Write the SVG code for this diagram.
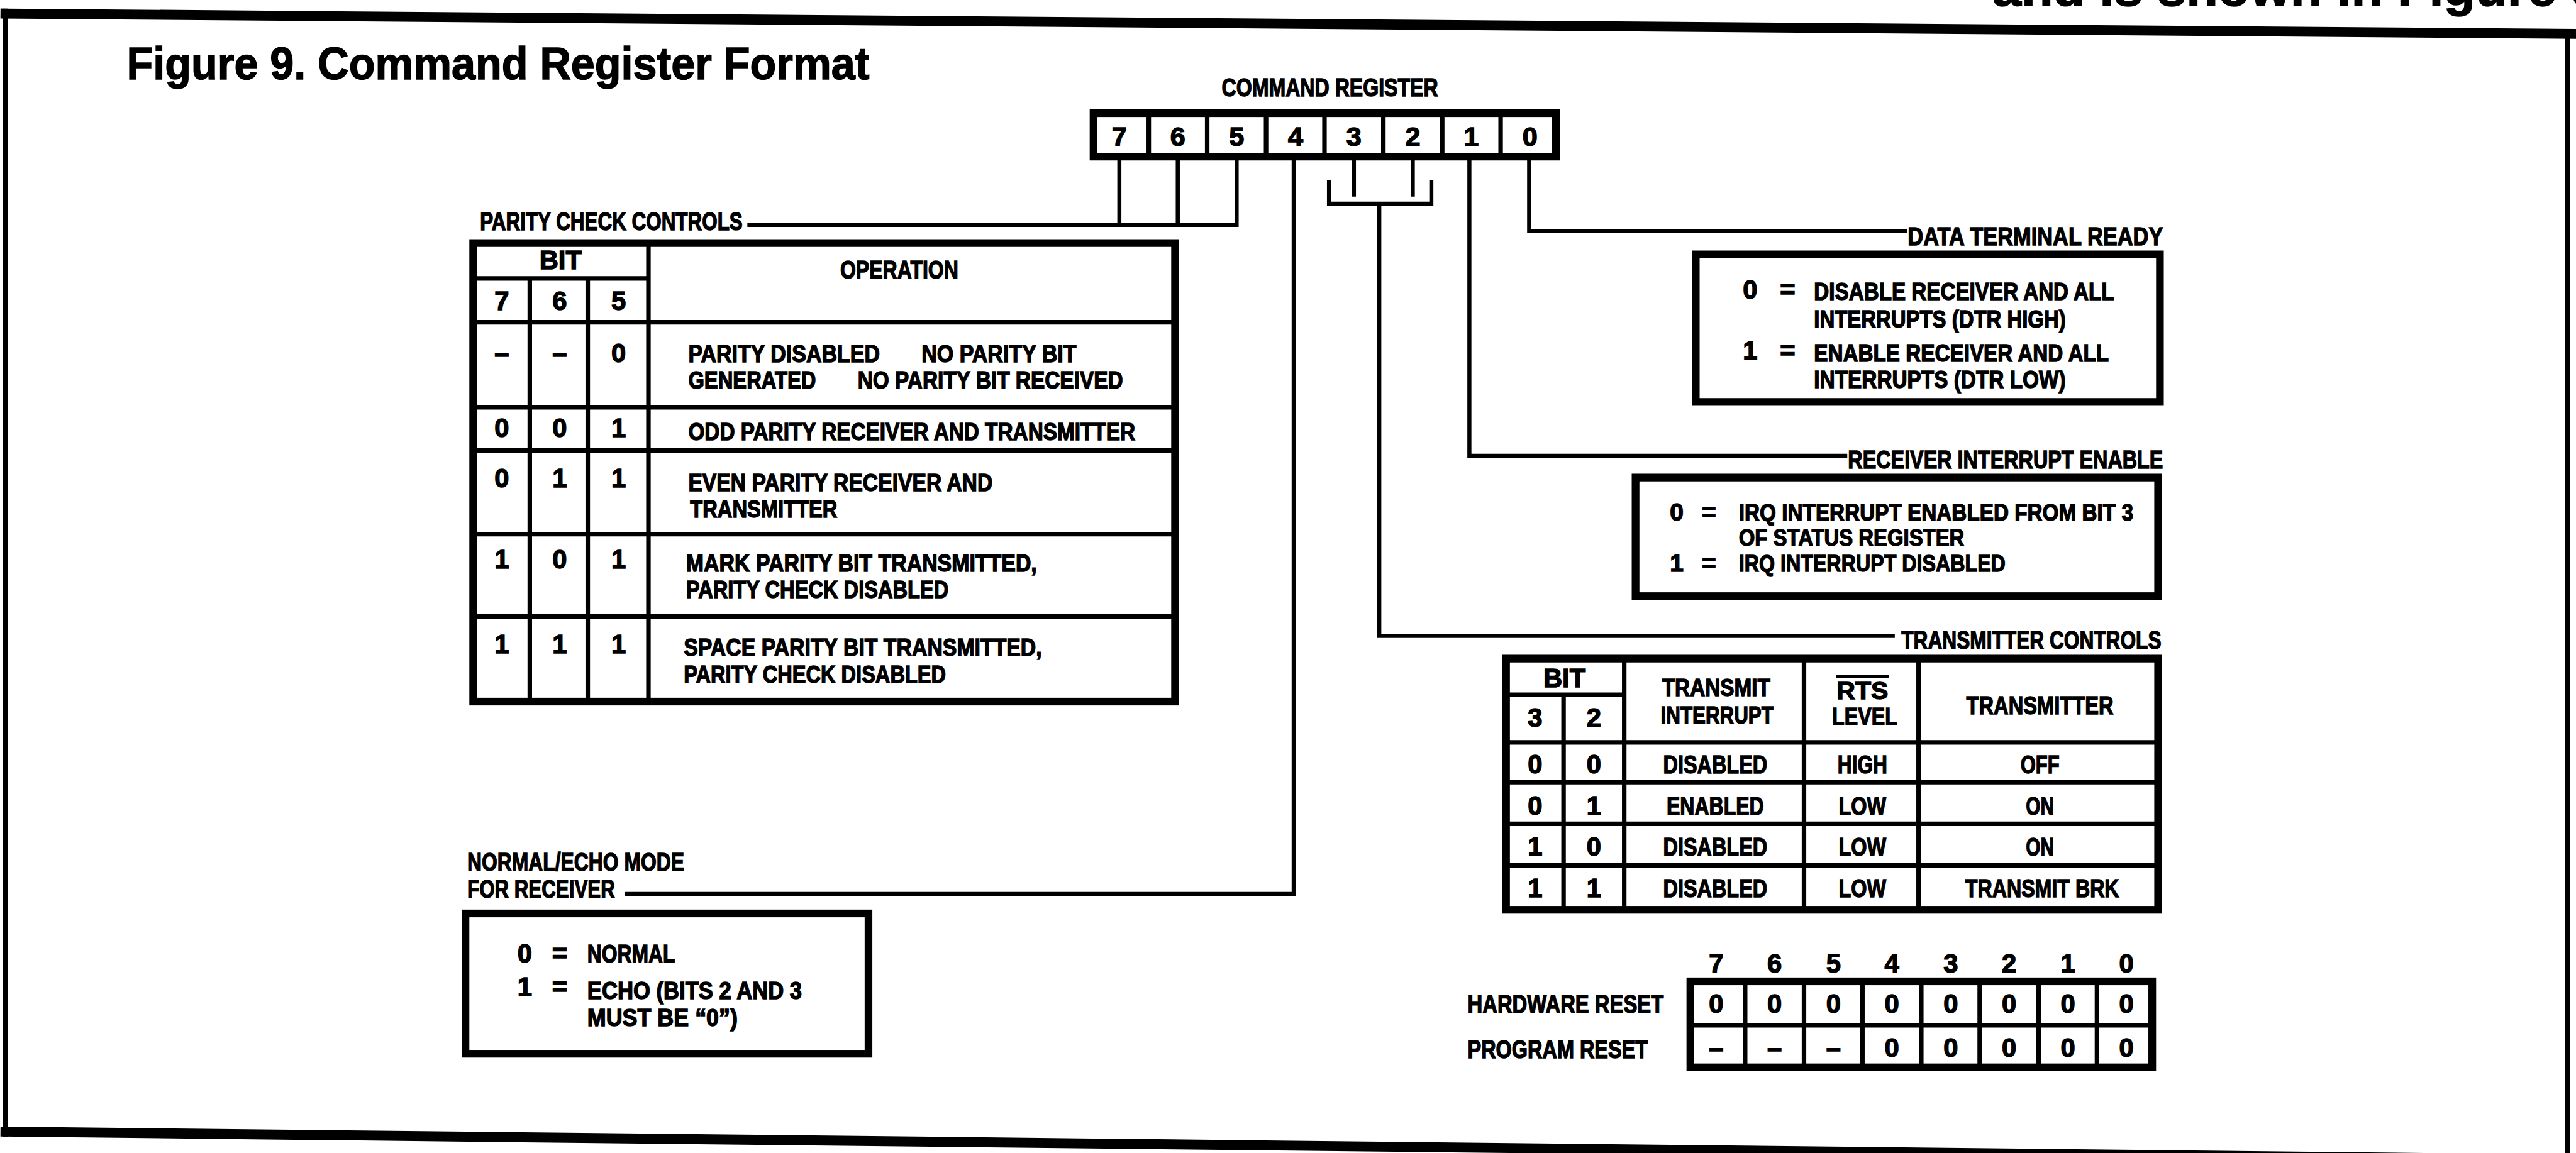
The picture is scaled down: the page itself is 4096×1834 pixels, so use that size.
<svg xmlns="http://www.w3.org/2000/svg" width="4096" height="1834" viewBox="0 0 4096 1834">
<style>
.ln{stroke:#000;fill:none;stroke-linecap:square}
.fr{stroke-width:22}
.b{stroke-width:17}
.g{stroke-width:10}
.c{stroke-width:9}
text{font-family:"Liberation Sans",Arial,Helvetica,sans-serif;font-weight:bold;fill:#000;stroke:#000;stroke-width:2}
.s{font-size:56px}
.t{font-size:53px}
.d{font-size:58px;text-anchor:middle}
.m{text-anchor:middle}
.ttl{font-size:100px}
</style>
<rect width="4096" height="1834" fill="#fff"/>
<g transform="scale(0.72)">
<g id="frame">
<line class="ln fr" x1="12" y1="30" x2="5700" y2="75"/>
<line class="ln" stroke-width="12" x1="12" y1="25" x2="12" y2="2505"/>
<line class="ln" stroke-width="12" x1="5670" y1="70" x2="5670" y2="2560"/>
<line class="ln fr" x1="12" y1="2500" x2="5700" y2="2562"/>
<text x="4400" y="13" style="font-size:115px">and is shown in Figure 9</text>
</g>
<g id="title"><text class="ttl" x="280" y="175" textLength="1640" lengthAdjust="spacingAndGlyphs">Figure 9. Command Register Format</text></g>

<g id="connectors">
<path class="ln c" d="M2472,353V497M2601,353V497M2731,353V497H1655"/>
<path class="ln c" d="M2857,353V1975H1385"/>
<path class="ln c" d="M2990,353V430M3120,353V430M2935,403V450H3161V403M3046,450V1405H4180"/>
<path class="ln c" d="M3245,353V1007H4075"/>
<path class="ln c" d="M3377,353V510H4207"/>
</g>

<g id="command-register">
<text class="s" x="2698" y="212" textLength="478" lengthAdjust="spacingAndGlyphs">COMMAND REGISTER</text>
<rect class="ln b" x="2415" y="250" width="1021" height="96"/>
<path class="ln g" d="M2537,250V346M2666,250V346M2796,250V346M2925,250V346M3055,250V346M3185,250V346M3314,250V346"/>
<g class="d" style="font-size:60px"><text x="2472" y="322">7</text><text x="2601" y="322">6</text><text x="2731" y="322">5</text><text x="2861" y="322">4</text><text x="2990" y="322">3</text><text x="3120" y="322">2</text><text x="3249" y="322">1</text><text x="3379" y="322">0</text></g>
</g>

<g id="parity-check-controls">
<text class="s" x="1060" y="508" textLength="580" lengthAdjust="spacingAndGlyphs">PARITY CHECK CONTROLS</text>
<rect class="ln b" x="1045" y="537" width="1550" height="1013"/>
<path class="ln g" d="M1170,615V1550M1298,615V1550M1432,537V1550M1045,615H1432M1045,712H2595M1045,900H2595M1045,995H2595M1045,1180H2595M1045,1362H2595"/>
<text class="d" x="1238" y="595">BIT</text>
<text class="s m" x="1986" y="615" textLength="261" lengthAdjust="spacingAndGlyphs">OPERATION</text>
<g class="d"><text x="1108" y="685">7</text><text x="1236" y="685">6</text><text x="1366" y="685">5</text>
<text x="1108" y="800">–</text><text x="1236" y="800">–</text><text x="1366" y="800">0</text>
<text x="1108" y="965">0</text><text x="1236" y="965">0</text><text x="1366" y="965">1</text>
<text x="1108" y="1077">0</text><text x="1236" y="1077">1</text><text x="1366" y="1077">1</text>
<text x="1108" y="1255">1</text><text x="1236" y="1255">0</text><text x="1366" y="1255">1</text>
<text x="1108" y="1443">1</text><text x="1236" y="1443">1</text><text x="1366" y="1443">1</text></g>
<text class="t" x="1520" y="800" textLength="423" lengthAdjust="spacingAndGlyphs">PARITY DISABLED</text>
<text class="t" x="2035" y="800" textLength="342" lengthAdjust="spacingAndGlyphs">NO PARITY BIT</text>
<text class="t" x="1520" y="858" textLength="282" lengthAdjust="spacingAndGlyphs">GENERATED</text>
<text class="t" x="1894" y="858" textLength="586" lengthAdjust="spacingAndGlyphs">NO PARITY BIT RECEIVED</text>
<text class="t" x="1520" y="972" textLength="987" lengthAdjust="spacingAndGlyphs">ODD PARITY RECEIVER AND TRANSMITTER</text>
<text class="t" x="1520" y="1085" textLength="672" lengthAdjust="spacingAndGlyphs">EVEN PARITY RECEIVER AND</text>
<text class="t" x="1524" y="1143" textLength="325" lengthAdjust="spacingAndGlyphs">TRANSMITTER</text>
<text class="t" x="1515" y="1263" textLength="775" lengthAdjust="spacingAndGlyphs">MARK PARITY BIT TRANSMITTED,</text>
<text class="t" x="1515" y="1321" textLength="580" lengthAdjust="spacingAndGlyphs">PARITY CHECK DISABLED</text>
<text class="t" x="1510" y="1448" textLength="791" lengthAdjust="spacingAndGlyphs">SPACE PARITY BIT TRANSMITTED,</text>
<text class="t" x="1510" y="1508" textLength="579" lengthAdjust="spacingAndGlyphs">PARITY CHECK DISABLED</text>
</g>

<g id="data-terminal-ready">
<text class="s" x="4213" y="542" textLength="564" lengthAdjust="spacingAndGlyphs">DATA TERMINAL READY</text>
<rect class="ln b" x="3745" y="562" width="1025" height="326"/>
<text class="d" x="3865" y="660">0</text><text class="d" x="3948" y="660">=</text>
<text class="t" x="4006" y="662" textLength="663" lengthAdjust="spacingAndGlyphs">DISABLE RECEIVER AND ALL</text>
<text class="t" x="4006" y="724" textLength="556" lengthAdjust="spacingAndGlyphs">INTERRUPTS (DTR HIGH)</text>
<text class="d" x="3865" y="795">1</text><text class="d" x="3948" y="795">=</text>
<text class="t" x="4006" y="798" textLength="651" lengthAdjust="spacingAndGlyphs">ENABLE RECEIVER AND ALL</text>
<text class="t" x="4006" y="857" textLength="556" lengthAdjust="spacingAndGlyphs">INTERRUPTS (DTR LOW)</text>
</g>

<g id="receiver-interrupt-enable">
<text class="s" x="4081" y="1035" textLength="696" lengthAdjust="spacingAndGlyphs">RECEIVER INTERRUPT ENABLE</text>
<rect class="ln b" x="3612" y="1055" width="1154" height="262"/>
<text class="d" style="font-size:54px" x="3703" y="1150">0</text><text class="d" style="font-size:54px" x="3774" y="1150">=</text>
<text style="font-size:52px" x="3840" y="1150" textLength="871" lengthAdjust="spacingAndGlyphs">IRQ INTERRUPT ENABLED FROM BIT 3</text>
<text style="font-size:52px" x="3840" y="1205" textLength="498" lengthAdjust="spacingAndGlyphs">OF STATUS REGISTER</text>
<text class="d" style="font-size:54px" x="3703" y="1262">1</text><text class="d" style="font-size:54px" x="3774" y="1262">=</text>
<text style="font-size:52px" x="3840" y="1262" textLength="589" lengthAdjust="spacingAndGlyphs">IRQ INTERRUPT DISABLED</text>
</g>

<g id="transmitter-controls">
<text class="s" x="4199" y="1433" textLength="574" lengthAdjust="spacingAndGlyphs">TRANSMITTER CONTROLS</text>
<rect class="ln b" x="3326" y="1455" width="1440" height="555"/>
<path class="ln g" d="M3453,1535V2010M3587,1455V2010M3984,1455V2010M4237,1455V2010M3326,1535H3587M3326,1640H4766M3326,1728H4766M3326,1820H4766M3326,1912H4766"/>
<text class="d" x="3455" y="1518">BIT</text>
<text class="d" x="3390" y="1605">3</text><text class="d" x="3520" y="1605">2</text>
<text class="t m" x="3790" y="1538" textLength="239" lengthAdjust="spacingAndGlyphs">TRANSMIT</text>
<text class="t m" x="3792" y="1598" textLength="249" lengthAdjust="spacingAndGlyphs">INTERRUPT</text>
<text class="t m" x="4113" y="1545" textLength="114" lengthAdjust="spacingAndGlyphs" text-decoration="overline">RTS</text>
<text class="t m" x="4118" y="1602" textLength="144" lengthAdjust="spacingAndGlyphs">LEVEL</text>
<text class="s m" x="4505" y="1578" textLength="325" lengthAdjust="spacingAndGlyphs">TRANSMITTER</text>
<g class="d"><text x="3390" y="1708">0</text><text x="3520" y="1708">0</text>
<text x="3390" y="1800">0</text><text x="3520" y="1800">1</text>
<text x="3390" y="1890">1</text><text x="3520" y="1890">0</text>
<text x="3390" y="1982">1</text><text x="3520" y="1982">1</text></g>
<text class="s m" x="3788" y="1708" textLength="230" lengthAdjust="spacingAndGlyphs">DISABLED</text>
<text class="s m" x="4113" y="1708" textLength="110" lengthAdjust="spacingAndGlyphs">HIGH</text>
<text class="s m" x="4505" y="1708" textLength="86" lengthAdjust="spacingAndGlyphs">OFF</text>
<text class="s m" x="3788" y="1800" textLength="215" lengthAdjust="spacingAndGlyphs">ENABLED</text>
<text class="s m" x="4113" y="1800" textLength="105" lengthAdjust="spacingAndGlyphs">LOW</text>
<text class="s m" x="4505" y="1800" textLength="62" lengthAdjust="spacingAndGlyphs">ON</text>
<text class="s m" x="3788" y="1890" textLength="230" lengthAdjust="spacingAndGlyphs">DISABLED</text>
<text class="s m" x="4113" y="1890" textLength="105" lengthAdjust="spacingAndGlyphs">LOW</text>
<text class="s m" x="4505" y="1890" textLength="62" lengthAdjust="spacingAndGlyphs">ON</text>
<text class="s m" x="3788" y="1982" textLength="230" lengthAdjust="spacingAndGlyphs">DISABLED</text>
<text class="s m" x="4113" y="1982" textLength="105" lengthAdjust="spacingAndGlyphs">LOW</text>
<text class="s m" x="4510" y="1982" textLength="340" lengthAdjust="spacingAndGlyphs">TRANSMIT BRK</text>
</g>

<g id="normal-echo-mode">
<text class="s" x="1032" y="1923" textLength="479" lengthAdjust="spacingAndGlyphs">NORMAL/ECHO MODE</text>
<text class="s" x="1032" y="1983" textLength="326" lengthAdjust="spacingAndGlyphs">FOR RECEIVER</text>
<rect class="ln b" x="1028" y="2018" width="890" height="310"/>
<text class="d" x="1159" y="2127">0</text><text class="d" x="1236" y="2127">=</text>
<text class="s" x="1297" y="2127" textLength="194" lengthAdjust="spacingAndGlyphs">NORMAL</text>
<text class="d" x="1159" y="2200">1</text><text class="d" x="1236" y="2200">=</text>
<text class="t" x="1297" y="2207" textLength="474" lengthAdjust="spacingAndGlyphs">ECHO (BITS 2 AND 3</text>
<text class="t" x="1297" y="2267" textLength="332" lengthAdjust="spacingAndGlyphs">MUST BE “0”)</text>
</g>

<g id="reset-values">
<g class="d"><text x="3790" y="2148">7</text><text x="3919" y="2148">6</text><text x="4049" y="2148">5</text><text x="4178" y="2148">4</text><text x="4308" y="2148">3</text><text x="4437" y="2148">2</text><text x="4567" y="2148">1</text><text x="4696" y="2148">0</text></g>
<text class="s" x="3241" y="2237" textLength="433" lengthAdjust="spacingAndGlyphs">HARDWARE RESET</text>
<text class="s" x="3241" y="2337" textLength="398" lengthAdjust="spacingAndGlyphs">PROGRAM RESET</text>
<rect class="ln b" x="3733" y="2168" width="1020" height="190"/>
<path class="ln g" stroke-width="13" d="M3733,2265H4753M3854,2168V2358M3984,2168V2358M4113,2168V2358M4243,2168V2358M4372,2168V2358M4502,2168V2358M4631,2168V2358"/>
<g class="d"><text x="3790" y="2238">0</text><text x="3919" y="2238">0</text><text x="4049" y="2238">0</text><text x="4178" y="2238">0</text><text x="4308" y="2238">0</text><text x="4437" y="2238">0</text><text x="4567" y="2238">0</text><text x="4696" y="2238">0</text>
<text x="3790" y="2335">–</text><text x="3919" y="2335">–</text><text x="4049" y="2335">–</text><text x="4178" y="2335">0</text><text x="4308" y="2335">0</text><text x="4437" y="2335">0</text><text x="4567" y="2335">0</text><text x="4696" y="2335">0</text></g>
</g>
</g>
</svg>
